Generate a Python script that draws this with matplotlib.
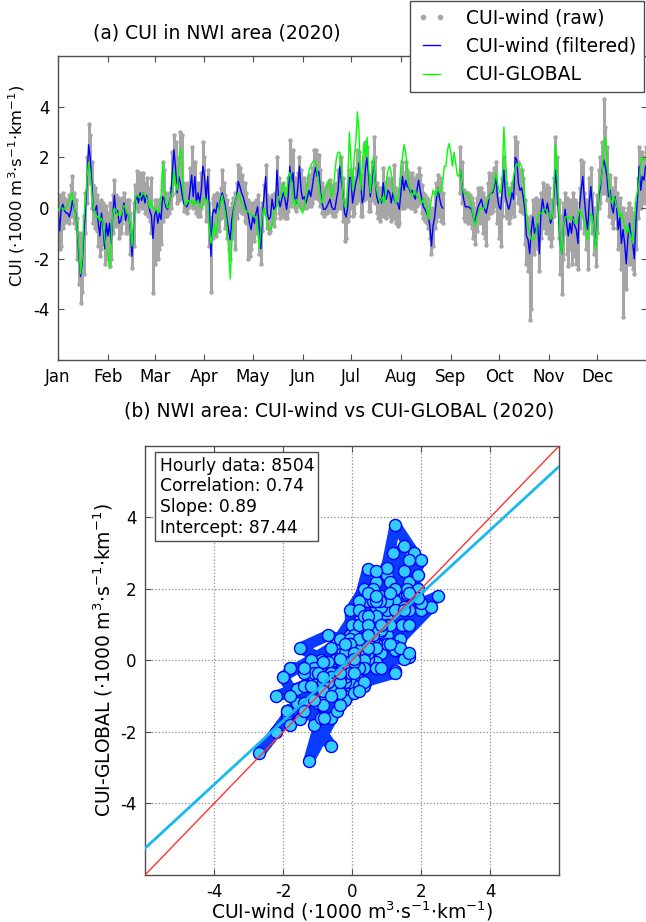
import numpy as np
import pandas as pd
import matplotlib
matplotlib.use('Agg')
import matplotlib.pyplot as plt
import matplotlib.dates as mdates
from matplotlib.lines import Line2D

nan = np.nan

# daily values for 2020 (366 days), units: 1000 m3/s/km
cui_wind_filt = [
    0.0, -0.9, 0.0, 0.15, -0.1, -0.2, -0.2, -0.35, -0.1, 0.3,
    0.0, -0.2, -0.9, -1.9, -2.7, -2.2, -1.1, -0.1, 1.0, 2.5,
    2.0, 1.0, -0.1, -0.1, 0.1, -0.6, -1.1, -0.2, -0.7, -1.6,
    -0.6, -1.1, -0.6, -1.4, -0.3, 0.5, -0.2, -0.1, -0.6, -0.5,
    -0.1, 0.2, -0.5, -0.2, -0.3, -0.9, -1.9, -0.6, 0.3, 0.5,
    0.2, 0.6, 0.3, 0.6, 0.2, 0.5, 0.2, -0.1, -0.3, -1.2,
    -0.3, -0.1, -0.6, -0.2, -0.45, 0.45, 0.35, 0.05, -0.05, 0.2,
    0.45, 1.4, 2.3, 1.6, 0.6, 1.25, 1.0, 0.6, 0.2, 0.1,
    0.05, 0.2, 0.7, 1.3, 0.45, 1.25, 0.2, 0.6, 0.2, 0.7,
    1.65, 1.25, 0.35, 1.25, -0.05, -1.9, -0.2, -0.05, -0.2, 0.2,
    -0.05, 0.35, 0.6, 0.35, 0.05, -0.45, -0.9, -1.25, -0.45, -0.05,
    0.2, 0.45, 1.05, 0.85, 0.6, 0.45, 0.2, -0.05, -0.2, -0.6,
    -0.85, -0.35, -0.6, -0.2, 0.05, -0.8, -1.6, -0.2, 0.45, 1.25,
    -0.2, -0.45, -0.35, 0.35, -0.05, 0.05, 1.5, 0.35, 0.05, 0.35,
    0.6, 0.35, -0.05, 0.45, 1.65, 1.0, 1.4, 0.45, 0.2, 0.85,
    1.65, 0.7, 0.35, 0.45, 0.2, 0.45, 0.7, 0.45, 0.85, 1.3,
    1.6, 1.25, 1.45, 0.7, 0.2, -0.05, -0.05, 0.05, 0.2, 0.35,
    0.05, -0.05, -0.05, 0.35, 0.7, 1.65, 1.1, 0.6, -0.2, -0.35,
    0.05, 1.2, 1.2, 0.2, 0.6, 1.0, 1.25, 1.8, 1.0, 0.2,
    0.45, 1.6, 2.0, 1.25, 0.45, 1.0, 1.9, 1.1, 0.45, 0.2,
    0.35, 0.2, 1.0, 0.45, 0.35, 0.7, 0.6, 0.2, 0.6, 0.35,
    0.2, 0.2, -0.05, 0.6, 1.25, 0.7, 1.1, 0.85, 0.8, 0.6,
    0.7, 0.5, 0.35, 0.7, 1.1, 0.7, 0.35, 0.05, -0.05, -0.2,
    -0.35, -0.7, -1.5, -0.7, -0.35, 0.3, 0.8, 0.4, 0.1, 0.0,
    nan, nan, nan, nan, nan, nan, nan, nan, nan, nan,
    1.5, 0.85, 0.35, 0.05, 0.05, 0.05, 0.0, -0.05, -0.35, -0.6,
    -0.2, 0.05, 0.2, 0.35, 0.05, -0.05, -0.2, 0.1, 0.5, 0.6,
    0.6, 0.85, 1.25, 0.45, 0.05, -0.05, 0.7, 1.5, 0.45, 0.2,
    -0.05, 0.2, 0.6, 0.35, 2.0, 1.9, 1.0, 0.7, 0.8, 0.45,
    -0.05, -1.1, -1.25, -1.8, -0.9, -0.35, -1.0, -0.8, -0.6, -1.8,
    -0.2, 0.35, -0.05, -0.2, 0.2, -0.2, -0.6, -0.35, 0.45, 1.5,
    0.7, -0.35, -1.4, -1.8, -0.7, -0.05, -0.6, -1.1, -0.6, -1.0,
    -0.35, -0.7, -0.85, -1.4, 0.05, 0.7, 1.25, 0.35, -0.35, -0.85,
    0.2, 0.85, 0.05, -0.85, -1.5, -0.35, 0.45, 0.85, 1.5, 1.9,
    1.65, 1.25, 0.45, 0.7, 0.05, -0.2, 0.45, 0.05, -0.85, -0.35,
    -1.4, -0.85, -1.4, -2.2, -1.2, -0.6, -1.1, -1.4, -2.0, -0.6,
    0.45, 1.65, 0.7, 1.25, 1.1, 1.65,
]

cui_global = [
    -0.1, 0.0, 0.0, 0.0, -0.05, 0.0, 0.1, 0.3, 0.5, 0.6,
    0.1, -0.3, -0.9, -1.6, -2.6, -2.0, -0.5, 0.3, 1.2, 1.8,
    1.4, 0.6, 0.0, -0.2, -0.4, -0.3, -0.5, -0.4, -0.6, -1.2,
    -1.6, -1.8, -2.4, -1.2, -0.2, 0.0, -0.1, -0.3, -0.2, -0.3,
    -0.1, 0.1, 0.0, -0.2, -0.3, -0.8, -1.5, -0.4, 0.4, 0.5,
    0.5, 0.4, 0.5, 0.6, 0.5, 0.4, 0.2, 0.0, 0.3, 0.0,
    -0.1, 0.0, -0.2, -0.1, 0.5, 1.8, 0.8, 0.2, 0.0, 0.1,
    0.5, 0.6, 1.5, 1.0, 0.7, 1.5, 2.4, 2.0, 0.5, 0.1,
    0.2, 0.3, 0.2, 0.3, 0.1, 0.3, 0.2, 0.3, 0.1, 0.0,
    0.1, 0.4, 0.3, 0.3, -0.85, -1.4, -1.0, -0.6, -1.1, -0.7,
    0.1, 0.2, 0.5, 0.1, -0.2, -0.8, -1.6, -2.8, -1.4, -0.2,
    0.2, 0.45, 0.6, 0.45, 0.2, 0.1, -0.1, -0.1, -0.15, -0.2,
    -0.3, -0.3, -0.3, -0.4, -0.9, -1.6, -0.8, -0.2, 0.0, -0.3,
    -0.6, -0.85, -0.85, -0.7, -0.2, -0.05, 0.05, 0.45, 0.45, 0.7,
    1.0, 0.45, 0.6, 1.25, 1.4, 1.0, 0.35, 0.05, 0.35, 0.2,
    0.2, -0.05, -0.2, 0.05, 0.45, 1.0, 1.5, 1.65, 1.8, 1.85,
    1.85, 1.45, 1.0, 0.45, 0.2, 0.45, 0.7, 0.85, 1.1, 0.85,
    0.45, 0.7, 1.4, 2.0, 2.2, 2.2, 1.9, 0.45, 0.05, 0.05,
    1.0, 3.0, 1.8, 0.7, 2.0, 2.6, 3.8, 3.0, 0.7, 1.65,
    2.55, 2.0, 2.8, 1.65, 0.6, 1.4, 2.0, 1.0, 0.7, 0.45,
    0.2, 0.35, 0.45, 0.2, 1.1, 1.5, 1.65, 1.4, 0.7, 0.45,
    0.2, 0.35, 0.7, 1.65, 2.0, 2.5, 2.2, 1.5, 0.85, 0.7,
    0.45, 0.6, 0.7, 0.45, 0.45, 0.35, 0.2, 0.35, 0.35, -0.05,
    -0.45, -0.05, 0.35, 0.7, 0.6, 0.5, 0.8, 0.6, 0.7, 1.0,
    1.65, 1.65, 2.3, 2.55, 2.2, 1.65, 2.2, 1.8, 1.3, 1.25,
    1.5, 0.85, 0.6, 0.6, 0.6, 0.45, 0.35, 0.05, -0.35, -0.7,
    -0.45, -0.2, -0.05, 0.0, -0.05, 0.05, 0.2, 0.35, 0.45, 0.6,
    0.7, 1.0, 1.4, 1.0, 0.7, 0.6, 1.25, 3.2, 1.9, 1.0,
    0.45, 0.6, 0.85, 1.25, 1.6, 1.75, 1.65, 1.75, 1.65, 1.25,
    0.45, -0.2, -0.7, -1.0, -1.25, -1.25, -1.2, -1.0, -0.35, -0.2,
    -0.2, -0.2, -0.05, -0.05, -0.2, -0.2, -0.45, -0.35, 0.7, 2.5,
    1.65, 0.05, -1.4, -1.8, -0.6, -0.35, -0.35, -0.35, -0.45, -0.35,
    -0.45, -0.6, -0.6, -0.35, -0.05, -0.2, -0.35, -0.6, -0.9, -1.25,
    -0.85, -0.2, -0.35, -0.85, -1.65, -0.6, 0.7, 1.0, 1.4, 2.4,
    2.8, 2.0, 1.0, 0.35, 0.2, 0.45, 0.35, 0.05, -0.05, -0.35,
    -0.2, -0.45, -0.7, -1.0, -0.7, -1.0, -1.1, -1.4, -0.45, 0.35,
    0.7, 1.0, 1.8, 2.0, 1.9, 1.9,
]

# spread of the hourly (raw) CUI-wind values within each day
cui_wind_raw_hi = [
    0.5, 0.4, 0.5, 0.6, 0.4, 0.3, 0.3, 0.5, 0.9, 1.25,
    0.6, 0.3, -0.4, -1.0, -1.5, -1.0, -0.3, 0.6, 2.0, 3.3,
    2.9, 1.8, 0.9, 0.8, 0.5, 0.2, 0.0, 0.3, 0.2, -0.3,
    0.1, -0.2, 0.2, -0.4, 0.5, 1.1, 0.5, 0.4, 0.2, 0.3,
    0.4, 0.6, 0.2, 0.3, 0.3, -0.2, -1.0, 0.2, 0.9, 1.45,
    1.2, 1.4, 1.2, 1.4, 1.0, 1.2, 0.8, 0.6, 1.2, 0.0,
    0.3, 0.3, 0.2, 0.3, 0.4, 1.8, 1.5, 0.6, 0.5, 0.6,
    0.8, 2.2, 2.9, 2.6, 1.4, 2.0, 3.0, 2.9, 1.0, 0.8,
    0.9, 1.0, 1.6, 2.4, 1.2, 1.8, 1.0, 1.0, 0.8, 1.4,
    2.6, 2.0, 1.0, 1.5, 0.2, -0.4, 0.4, 0.5, 0.4, 0.6,
    0.5, 0.8, 1.5, 1.0, 0.5, 0.3, 0.0, -0.5, 0.2, 0.4,
    0.6, 1.0, 1.7, 1.6, 1.3, 1.0, 1.0, 0.6, 0.3, 0.2,
    0.0, 0.2, 0.2, 0.3, 0.5, 0.0, -0.6, 0.2, 0.9, 1.7,
    0.5, 0.3, 0.4, 0.5, 0.4, 0.6, 2.0, 1.2, 0.8, 0.9,
    1.0, 0.8, 0.6, 1.2, 2.7, 2.2, 2.3, 1.2, 1.0, 1.4,
    2.0, 1.5, 1.1, 1.2, 1.0, 1.2, 1.3, 1.2, 1.6, 2.3,
    2.3, 2.1, 2.1, 1.5, 1.0, 0.8, 0.8, 0.9, 1.0, 1.1,
    0.9, 0.7, 0.8, 1.0, 1.5, 2.0, 2.0, 1.2, 0.3, 0.3,
    0.5, 1.5, 1.5, 0.8, 1.2, 1.6, 2.3, 2.2, 1.3, 1.0,
    2.0, 2.6, 2.4, 1.3, 1.0, 1.8, 2.8, 2.0, 1.0, 0.8,
    0.8, 0.8, 1.6, 1.0, 0.8, 1.2, 1.1, 0.8, 1.2, 1.7,
    0.8, 0.7, 0.5, 1.2, 1.8, 1.4, 1.8, 1.5, 1.4, 1.3,
    1.4, 1.2, 1.0, 1.3, 1.6, 1.3, 0.9, 0.6, 0.5, 0.4,
    0.3, 0.0, -0.3, 0.0, 0.6, 1.0, 1.3, 1.2, 0.8, 0.6,
    nan, nan, nan, nan, nan, nan, nan, nan, nan, nan,
    2.4, 1.8, 0.7, 0.6, 0.6, 0.6, 0.5, 0.4, 0.2, 0.0,
    0.4, 0.8, 0.8, 0.8, 0.6, 0.4, 0.4, 1.0, 1.4, 1.3,
    1.4, 1.6, 1.8, 0.6, 0.4, 0.2, 1.2, 2.0, 1.0, 0.8,
    0.7, 0.8, 1.0, 1.0, 2.8, 2.6, 1.8, 1.5, 1.5, 1.2,
    0.3, -0.3, -0.4, -0.6, -0.3, 0.3, 0.2, 0.4, 0.3, 0.0,
    0.6, 1.0, 0.8, 0.8, 0.9, 0.8, 0.3, 0.3, 1.2, 2.8,
    2.0, 0.3, -0.3, -0.5, 0.2, 0.6, 0.4, 0.0, 0.3, 0.2,
    0.6, 0.3, 0.2, -0.2, 0.8, 1.9, 1.8, 0.6, 0.3, 0.0,
    1.2, 1.6, 0.6, 0.0, -0.4, 0.5, 1.5, 2.0, 2.6, 4.3,
    3.2, 2.4, 1.3, 1.3, 0.8, 0.6, 1.2, 0.6, 0.2, 0.4,
    -0.2, 0.0, -0.2, -0.8, 0.0, 0.2, 0.0, -0.2, -0.4, 0.2,
    1.2, 2.4, 1.8, 2.2, 2.0, 2.4,
]

cui_wind_raw_lo = [
    -1.0, -1.6, -1.5, -0.8, -0.6, -0.5, -0.5, -0.6, -0.3, -0.2,
    -0.6, -0.8, -2.0, -3.0, -3.75, -3.3, -2.6, -1.0, 0.2, 1.4,
    1.0, 0.0, -0.6, -0.8, -0.9, -1.5, -1.9, -1.6, -1.4, -2.2,
    -1.9, -2.0, -2.3, -2.0, -1.0, -0.4, -0.7, -0.6, -1.2, -1.0,
    -0.6, -0.4, -1.0, -0.8, -1.0, -1.8, -2.35, -1.5, 0.0, 0.1,
    -0.1, 0.1, 0.0, 0.2, -0.2, 0.0, -0.3, -0.5, -1.0, -3.35,
    -2.2, -1.8, -2.0, -1.6, -1.4, -0.5, -0.3, -0.3, -0.3, -0.2,
    0.0, 0.5, 1.0, 0.6, 0.2, 0.3, 0.5, 0.4, -0.1, -0.1,
    -0.2, 0.0, 0.1, 0.3, 0.0, 0.2, -0.2, -0.3, -0.3, 0.0,
    0.4, 0.2, -0.5, -0.2, -1.5, -3.3, -1.2, -1.0, -1.1, -0.8,
    -0.9, -0.4, -0.3, -0.3, -0.8, -1.2, -1.6, -2.0, -1.2, -1.0,
    -1.6, -0.4, 0.0, -0.1, -0.2, -0.2, -0.5, -0.6, -2.0, -1.9,
    -1.6, -1.2, -1.3, -1.0, -0.8, -1.8, -2.2, -0.9, -0.2, 0.0,
    -0.8, -1.0, -0.9, -0.5, -0.7, -0.4, 0.2, -0.2, -0.4, -0.3,
    -0.2, -0.4, -0.4, -0.1, 0.4, 0.1, 0.3, 0.0, -0.1, 0.1,
    0.4, 0.0, 0.0, 0.1, 0.0, 0.1, 0.2, 0.1, 0.2, 0.4,
    0.5, 0.4, 0.3, 0.1, -0.2, -0.3, -0.2, -0.2, -0.1, -0.1,
    -0.2, -0.3, -0.3, -0.1, 0.0, 0.3, 0.0, -0.5, -1.3, -1.2,
    -0.5, -0.3, 0.0, -0.3, -0.2, 0.2, 0.4, 0.3, -0.3, -0.3,
    0.3, 0.6, 0.4, -0.1, -0.1, 0.3, 0.6, 0.2, -0.2, -0.4,
    -0.5, -0.3, 0.1, -0.3, -0.4, -0.2, -0.3, -0.5, -0.3, -0.4,
    -0.6, -0.7, -0.6, 0.0, 0.3, 0.0, 0.2, 0.1, 0.1, 0.0,
    0.1, 0.0, -0.1, 0.1, 0.4, 0.2, -0.2, -0.4, -0.5, -0.6,
    -0.8, -1.2, -1.8, -1.5, -0.8, -0.5, -0.3, -0.3, -0.5, -0.6,
    nan, nan, nan, nan, nan, nan, nan, nan, nan, nan,
    0.6, 0.2, -0.4, -0.5, -0.5, -0.6, -0.6, -0.8, -1.2, -1.4,
    -0.9, -0.6, -0.5, -0.6, -1.0, -1.2, -1.45, -0.4, -0.2, -0.2,
    -0.1, 0.1, 0.2, -0.6, -1.2, -1.5, -0.3, 0.3, -0.3, -0.4,
    -0.6, -0.4, -0.2, -0.3, 0.8, 0.6, 0.2, -0.1, -0.1, -0.2,
    -1.4, -2.2, -2.5, -4.4, -4.0, -1.5, -1.8, -1.5, -1.6, -2.5,
    -1.2, -0.6, -0.8, -1.0, -0.8, -1.2, -1.5, -1.2, -0.3, 0.5,
    0.2, -1.2, -2.6, -3.4, -2.0, -1.0, -1.8, -2.3, -1.6, -2.2,
    -1.5, -1.9, -2.2, -2.4, -0.8, 0.0, -0.3, -1.0, -1.6, -2.4,
    -0.4, 0.0, -1.0, -1.8, -2.3, -1.0, 0.0, 0.2, 0.6, 0.8,
    0.6, 0.3, -0.3, -0.3, -0.6, -0.8, -0.4, -0.8, -1.6, -1.3,
    -2.4, -4.3, -2.6, -3.2, -2.2, -1.8, -2.2, -2.4, -2.6, -1.6,
    -0.4, 0.4, 0.0, 0.3, 0.2, 0.4,
]

# regression stats shown in panel (b)
n_hourly = 8504
correlation = 0.74
slope = 0.89
intercept = 87.44  # m3/s/km

plt.rcParams['axes.unicode_minus'] = False
plt.rcParams['font.size'] = 12

days = pd.date_range('2020-01-01', periods=len(cui_wind_filt), freq='D')
month_starts = pd.date_range('2020-01-01', '2020-12-01', freq='MS')
wind = np.array(cui_wind_filt)
glob = np.array(cui_global)
hi = np.array(cui_wind_raw_hi)
lo = np.array(cui_wind_raw_lo)

unit = '($\\cdot$1000 m$^3$$\\cdot$s$^{-1}$$\\cdot$km$^{-1}$)'
spine_col = '0.3'
raw_col = '#a6a6a6'

fig = plt.figure(figsize=(6.46, 9.22), dpi=100)

# ---------- (a) time series ----------
ax1 = fig.add_axes([0.0898, 0.6095, 0.912, 0.3297])
ok = ~np.isnan(hi)
ax1.vlines(days[ok], lo[ok], hi[ok], color=raw_col, lw=2.2, zorder=1)
ax1.plot(days, hi, 'o', color=raw_col, ms=3.2, mec='none', zorder=1)
ax1.plot(days, lo, 'o', color=raw_col, ms=3.2, mec='none', zorder=1)
ax1.plot(days, wind, color='#0000ff', lw=1.0, zorder=2)
ax1.plot(days, glob, color='#00ff00', lw=1.0, zorder=3)

ax1.set_xlim(pd.Timestamp('2020-01-01'), pd.Timestamp('2021-01-01'))
ax1.set_ylim(-6, 6)
ax1.set_yticks([-4, -2, 0, 2, 4])
ax1.set_xticks(month_starts)
ax1.xaxis.set_major_formatter(mdates.DateFormatter('%b'))
ax1.set_ylabel('CUI ' + unit, fontsize=11.8)
ax1.yaxis.set_label_coords(-0.053, 0.572)
fig.text(217 / 646, 1 - 33 / 922, '(a) CUI in NWI area (2020)',
         ha='center', va='center', fontsize=13.5)

handles = [
    Line2D([], [], ls='none', marker='o', color=raw_col, mec='none', ms=4),
    Line2D([], [], color='#0000ff', lw=1.0),
    Line2D([], [], color='#00ff00', lw=1.0),
]
leg = ax1.legend(handles, ['CUI-wind (raw)', 'CUI-wind (filtered)', 'CUI-GLOBAL'],
                 loc='upper right', bbox_to_anchor=(0.997, 0.999),
                 bbox_transform=fig.transFigure, borderaxespad=0,
                 fontsize=13.5, numpoints=2, handlelength=1.5,
                 handletextpad=1.1, fancybox=False, framealpha=1,
                 edgecolor=spine_col)
leg.get_frame().set_linewidth(1.0)

# ---------- (b) scatter ----------
ax2 = fig.add_axes([0.2245, 0.051, 0.641, 0.4653])
m = ~np.isnan(wind) & ~np.isnan(glob)
# trail along the time order, the hourly circles overlap into bands
ax2.plot(wind, glob, color='#0a3cff', lw=8, solid_capstyle='round',
         solid_joinstyle='round', zorder=1.5)
ax2.scatter(wind[m], glob[m], s=75, c='#33ccff', edgecolors='#0000ff',
            linewidths=1.0, zorder=2)
lim = np.array([-6, 6])
ax2.plot(lim, slope * lim + intercept / 1000.0, color='#1ab8ee', lw=2, zorder=3)
ax2.plot(lim, lim, color='#ff3333', lw=1, zorder=4)
ax2.set_xlim(-6, 6)
ax2.set_ylim(-6, 6)
ax2.set_xticks([-4, -2, 0, 2, 4])
ax2.set_yticks([-4, -2, 0, 2, 4])
ax2.grid(True, ls=':', color='0.55', lw=0.9, zorder=0)
ax2.set_axisbelow(True)
ax2.set_xlabel('CUI-wind ' + unit, fontsize=13.5)
ax2.set_ylabel('CUI-GLOBAL ' + unit, fontsize=13.5)
ax2.xaxis.set_label_coords(0.5, -0.058)
ax2.yaxis.set_label_coords(-0.072, 0.5)
fig.text(339 / 646, 1 - 411 / 922, '(b) NWI area: CUI-wind vs CUI-GLOBAL (2020)',
         ha='center', va='center', fontsize=13.5)

stats = (f'Hourly data: {n_hourly}\nCorrelation: {correlation:.2f}\n'
         f'Slope: {slope:.2f}\nIntercept: {intercept:.2f}')
ax2.text(0.035, 0.975, stats, transform=ax2.transAxes, va='top', ha='left',
         fontsize=12.3, zorder=5,
         bbox=dict(boxstyle='square,pad=0.25', fc='white', ec=spine_col, lw=1))

for ax in (ax1, ax2):
    ax.tick_params(direction='in', top=True, right=True, length=4,
                   width=0.8, color=spine_col, labelsize=12, pad=6)
    for s in ax.spines.values():
        s.set_color(spine_col)
        s.set_linewidth(1.0)

fig.savefig('out.png', dpi=100)
